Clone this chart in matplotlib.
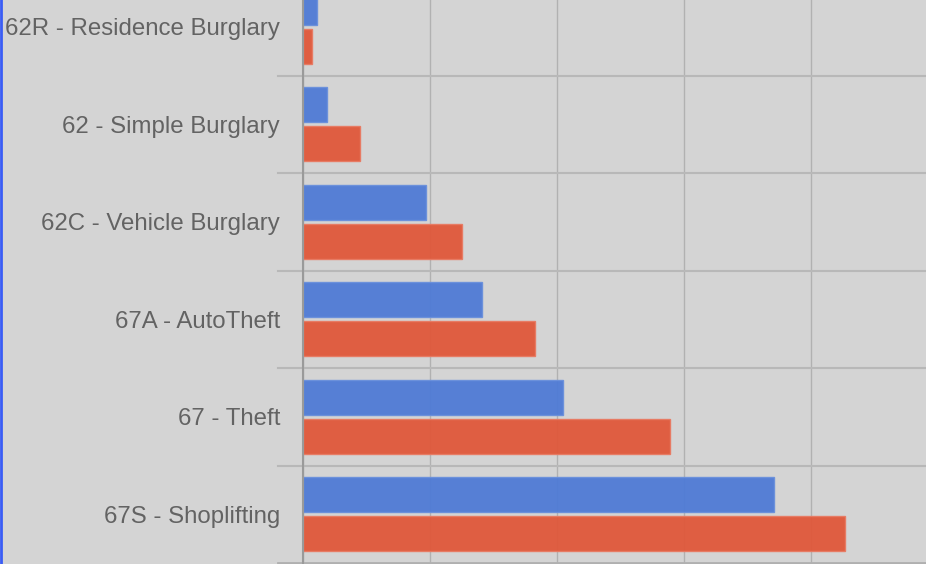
import numpy as np
import matplotlib.pyplot as plt

# categories from bottom to top
categories = ["67S - Shoplifting", "67 - Theft", "67A - AutoTheft",
              "62C - Vehicle Burglary", "62 - Simple Burglary",
              "62R - Residence Burglary"]
blue_vals = [371, 205, 141, 97, 19, 11]
red_vals = [427, 289, 183, 125, 45, 7]
x_ticks = [0, 100, 200, 300, 400, 500]

W, H = 926, 564
fig = plt.figure(figsize=(W / 100, H / 100), dpi=100)
fig.patch.set_facecolor("#d4d4d4")

# axes run past the top and right edges of the picture
left, bottom = 303 / W, 1 - 563 / H
width = 640 / W
height = 585 / H
ax = fig.add_axes([left, bottom, width, height])
ax.set_facecolor("#d4d4d4")

y = np.arange(len(categories))
bh = 0.36
off = 0.2
ax.barh(y + off, blue_vals, height=bh, color="#4f7bd6", alpha=0.95,
        edgecolor="#6a90dc", linewidth=1, zorder=3)
ax.barh(y - off, red_vals, height=bh, color="#e0583a", alpha=0.95,
        edgecolor="#e87a62", linewidth=1, zorder=3)

ax.set_ylim(-0.5, len(categories) - 0.5)
ax.set_xlim(0, 504)
ax.set_xticks(x_ticks)
ax.set_xticklabels([])
ax.tick_params(axis="x", length=0)
ax.grid(axis="x", color="#a9a9a9", linewidth=1, zorder=4, alpha=0.8)

ax.set_yticks(y)
ax.set_yticklabels(categories, fontsize=17.3, color="#636363",
                   fontfamily="Liberation Sans")
ax.tick_params(axis="y", length=0, pad=16.5)

# category separators sticking out to the left
bounds = np.arange(len(categories)) - 0.5
for b in bounds[1:]:
    ax.plot([-25 / 1.27, 504], [b, b], color="#b8b8b8", linewidth=1.5,
            clip_on=False, zorder=2)
ax.plot([-25 / 1.27, 504], [-0.5, -0.5], color="#b0b0b0", linewidth=2,
        clip_on=False, zorder=2)

for s in ["top", "right"]:
    ax.spines[s].set_visible(False)
ax.spines["bottom"].set_visible(False)
ax.spines["left"].set_color("#9a9a9a")
ax.spines["left"].set_linewidth(1.5)
ax.spines["left"].set_zorder(5)

# thin blue line on the left edge
fig.add_artist(plt.Line2D([1 / W, 1 / W], [0, 1], color="#3a5cf5",
                          linewidth=2, transform=fig.transFigure))

fig.savefig("out.png", dpi=100, facecolor=fig.get_facecolor())
